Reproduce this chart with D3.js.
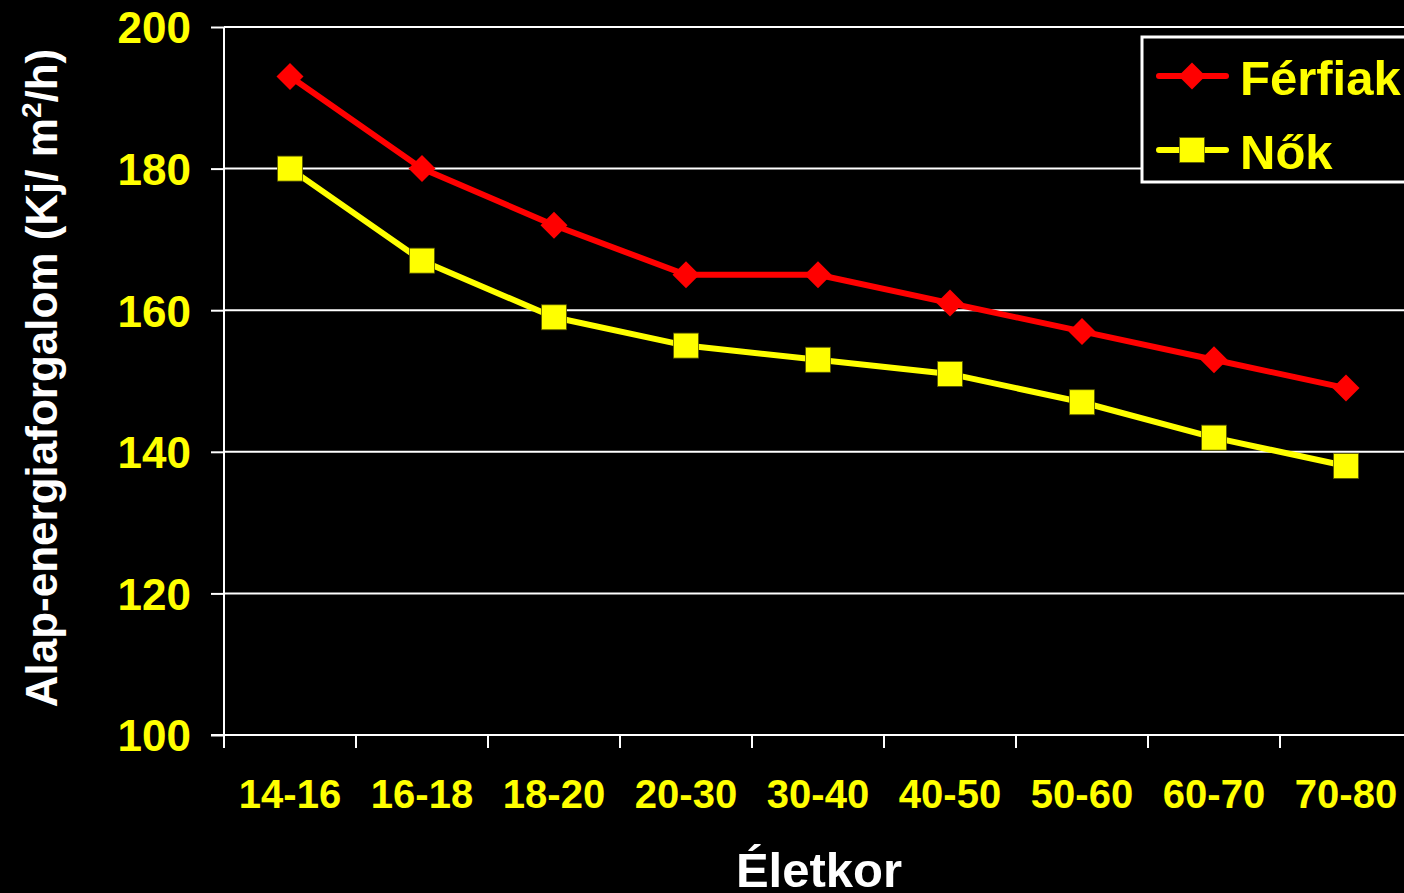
<!DOCTYPE html>
<html><head><meta charset="utf-8">
<script src="https://cdn.jsdelivr.net/npm/d3@7"></script>
<style>
html,body{margin:0;padding:0;background:#000;overflow:hidden;}
svg{display:block;}
text{font-family:"Liberation Sans",Arial,sans-serif;font-weight:bold;}
</style></head>
<body>
<svg id="chart" width="1404" height="893"></svg>
<script>
const categories = ["14-16","16-18","18-20","20-30","30-40","40-50","50-60","60-70","70-80"];
const ferfiak = [193,180,172,165,165,161,157,153,149];
const nok = [180,167,159,155,153,151,147,142,138];
const yTicks = [100,120,140,160,180,200];
const seriesNames = ["Férfiak","Nők"];

(function () {
const svg = d3.select("#chart");
const W = 1404, H = 893;
const pLeft = 224, pRight = 1412, pTop = 27, pBottom = 735;

const x = d3.scaleBand().domain(categories).range([pLeft, pRight]).padding(0);
const y = d3.scaleLinear().domain([100, 200]).range([pBottom, pTop]);
const cx = c => x(c) + x.bandwidth() / 2;

// gridlines
svg.append("g").selectAll("line").data(yTicks.filter(t => t > 100)).join("line")
  .attr("x1", pLeft).attr("x2", W)
  .attr("y1", d => y(d)).attr("y2", d => y(d))
  .attr("stroke", "#fff").attr("stroke-width", 2);

// y axis
const yAxis = d3.axisLeft(y).tickValues(yTicks).tickSize(13).tickFormat(d3.format("d"));
const gy = svg.append("g").attr("transform", `translate(${pLeft},0)`).call(yAxis);
gy.select(".domain").attr("stroke", "#fff").attr("stroke-width", 2)
  .attr("d", `M0,${pTop}V${pBottom + 13}`);
gy.selectAll(".tick line").attr("stroke", "#fff").attr("stroke-width", 2);
gy.selectAll(".tick text").attr("fill", "#ffff00").attr("font-size", 44)
  .attr("x", -33).attr("dy", "0.36em")
  .style("font-family", '"Liberation Sans",Arial,sans-serif').style("font-weight", "bold");

// x axis baseline
svg.append("line").attr("x1", pLeft - 13).attr("x2", W).attr("y1", pBottom).attr("y2", pBottom)
  .attr("stroke", "#fff").attr("stroke-width", 2);
// x ticks at category boundaries
svg.append("g").selectAll("line").data(categories).join("line")
  .attr("x1", d => x(d)).attr("x2", d => x(d))
  .attr("y1", pBottom).attr("y2", pBottom + 13)
  .attr("stroke", "#fff").attr("stroke-width", 2);
// x tick labels
svg.append("g").selectAll("text").data(categories).join("text")
  .attr("x", d => cx(d)).attr("y", 808)
  .attr("text-anchor", "middle").attr("fill", "#ffff00").attr("font-size", 40)
  .text(d => d);

// axis titles
svg.append("text").attr("x", 819).attr("y", 887).attr("text-anchor", "middle")
  .attr("fill", "#fff").attr("font-size", 49).text("Életkor");
const yl = svg.append("text")
  .attr("transform", "translate(57,378) rotate(-90)")
  .attr("text-anchor", "middle").attr("fill", "#fff").attr("font-size", 44);
yl.append("tspan").text("Alap-energiaforgalom (Kj/ m");
yl.append("tspan").attr("dy", -16).attr("font-size", 28).text("2");
yl.append("tspan").attr("dy", 16).text("/h)");

// lines
const line = d3.line().x((d, i) => cx(categories[i])).y(d => y(d));
svg.append("path").datum(ferfiak).attr("d", line).attr("fill", "none")
  .attr("stroke", "#ff0000").attr("stroke-width", 6).attr("stroke-linejoin", "round");
svg.append("path").datum(nok).attr("d", line).attr("fill", "none")
  .attr("stroke", "#ffff00").attr("stroke-width", 6).attr("stroke-linejoin", "round");

const diamond = (g, px, py) => g.append("path")
  .attr("d", `M${px},${py - 13.5}L${px + 13.5},${py}L${px},${py + 13.5}L${px - 13.5},${py}Z`)
  .attr("fill", "#ff0000");
const square = (g, px, py) => g.append("rect")
  .attr("x", px - 12.5).attr("y", py - 12.5).attr("width", 25).attr("height", 25)
  .attr("fill", "#ffff00").attr("stroke", "#555500").attr("stroke-width", 0.8);

const gm = svg.append("g");
ferfiak.forEach((v, i) => diamond(gm, cx(categories[i]), y(v)));
nok.forEach((v, i) => square(gm, cx(categories[i]), y(v)));

// legend
const lg = svg.append("g");
lg.append("rect").attr("x", 1142).attr("y", 37).attr("width", 280).attr("height", 145)
  .attr("fill", "#000").attr("stroke", "#fff").attr("stroke-width", 3);
const legendY = [76, 150];
const colors = ["#ff0000", "#ffff00"];
seriesNames.forEach((n, i) => {
  lg.append("line").attr("x1", 1159).attr("x2", 1226).attr("y1", legendY[i]).attr("y2", legendY[i])
    .attr("stroke", colors[i]).attr("stroke-width", 6).attr("stroke-linecap", "round");
  if (i === 0) diamond(lg, 1192, legendY[i]); else square(lg, 1192, legendY[i]);
  lg.append("text").attr("x", 1240).attr("y", legendY[i] + 19).attr("fill", "#ffff00")
    .attr("font-size", 49).text(n);
});
})();
</script>
</body></html>
